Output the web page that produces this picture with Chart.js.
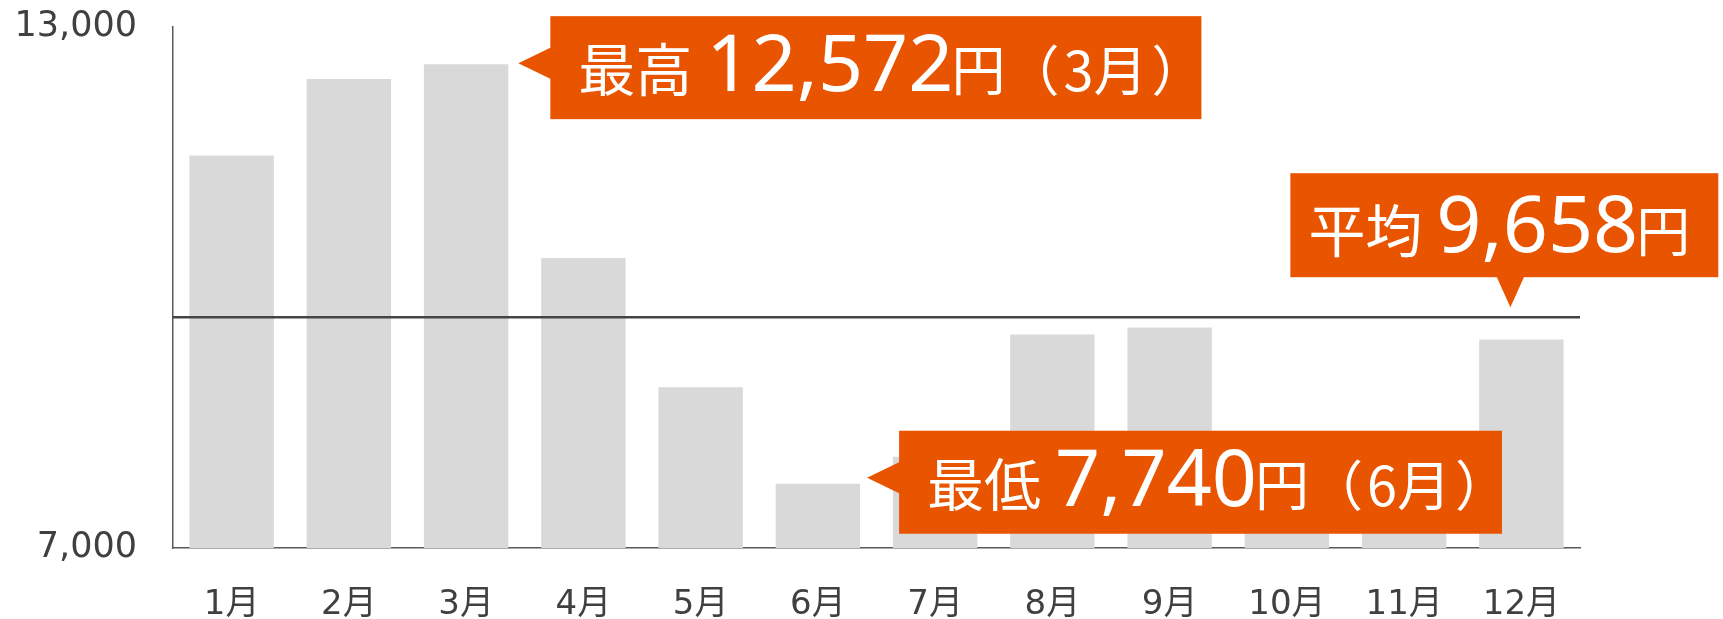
<!DOCTYPE html>
<html lang="ja">
<head>
<meta charset="utf-8">
<script src="https://cdn.jsdelivr.net/npm/chart.js@4.4.1/dist/chart.umd.min.js"></script>
<style>
html, body { margin: 0; padding: 0; background: #fff; }
#wrap { width: 1723px; height: 619px; }
</style>
</head>
<body>
<div id="wrap"><canvas id="priceChart" width="1723" height="619"></canvas></div>
<script>
// monthly prices (yen)
const months = ['1月', '2月', '3月', '4月', '5月', '6月', '7月', '8月', '9月', '10月', '11月', '12月'];
const prices = [11520, 12400, 12572, 10340, 8850, 7740, 8050, 9460, 9540, 7990, 8034, 9400];
const average = 9658;
const yTicks = [7000, 13000];

const ORANGE = 'rgb(233, 84, 0)';
const BAR = '#d9d9d9';
const AXIS = '#595959';
const TEXT = '#404040';
const CJK = '"Noto Sans CJK JP", sans-serif';
const NUM = '"Noto Sans", "Noto Sans CJK JP", sans-serif';
const TICK_FONT = '"DejaVu Sans", "Noto Sans CJK JP", sans-serif';

const maxIdx = prices.indexOf(Math.max(...prices));
const minIdx = prices.indexOf(Math.min(...prices));
const fmt = v => v.toLocaleString('en-US');

function partsWidth(ctx, parts) {
    let w = 0;
    parts.forEach(p => {
        ctx.font = p.font;
        w += (p.gap || 0) + ctx.measureText(p.text).width;
    });
    return w;
}

function drawParts(ctx, parts, x, baseline) {
    ctx.fillStyle = '#fff';
    ctx.textBaseline = 'alphabetic';
    ctx.textAlign = 'left';
    parts.forEach(p => {
        ctx.font = p.font;
        x += p.gap || 0;
        ctx.fillText(p.text, x, baseline);
        x += ctx.measureText(p.text).width;
    });
}

// label, value, 円, (month) pieces for one callout
function calloutParts(label, value, month) {
    const parts = [
        { text: label, font: '57px ' + CJK },
        { text: fmt(value), font: '79px ' + NUM, gap: 14 },
        { text: '円', font: '54px ' + CJK, gap: -2 },
    ];
    if (month) {
        parts.push({ text: '（', font: '54px ' + CJK, gap: 0 });
        parts.push({ text: month, font: '54px ' + CJK, gap: 4 });
        parts.push({ text: '）', font: '54px ' + CJK, gap: 4 });
    }
    return parts;
}

// callout with an arrow on its left side
function sideCallout(ctx, tipX, tipY, parts, padL, padR) {
    const left = tipX + 32;
    const top = tipY - 47;
    const h = 103;
    const w = padL + partsWidth(ctx, parts) + padR;
    ctx.fillStyle = ORANGE;
    ctx.fillRect(left, top, w, h);
    ctx.beginPath();
    ctx.moveTo(tipX, tipY);
    ctx.lineTo(left + 1, tipY - 16);
    ctx.lineTo(left + 1, tipY + 16);
    ctx.closePath();
    ctx.fill();
    drawParts(ctx, parts, left + padL, top + 75);
}

// callout with an arrow pointing down
function downCallout(ctx, tipX, tipY, parts, padL, padR) {
    const bottom = tipY - 30;
    const top = bottom - 104;
    const left = tipX - 220;
    const w = padL + partsWidth(ctx, parts) + padR;
    ctx.fillStyle = ORANGE;
    ctx.fillRect(left, top, w, bottom - top);
    ctx.beginPath();
    ctx.moveTo(tipX, tipY);
    ctx.lineTo(tipX - 14, bottom - 1);
    ctx.lineTo(tipX + 14, bottom - 1);
    ctx.closePath();
    ctx.fill();
    drawParts(ctx, parts, left + padL, top + 79);
}

const calloutPlugin = {
    id: 'callouts',
    afterDatasetsDraw(chart) {
        const ctx = chart.ctx;
        const area = chart.chartArea;
        const y = chart.scales.y;
        const bars = chart.getDatasetMeta(0).data;

        ctx.save();
        // average line
        const avgY = y.getPixelForValue(average);
        ctx.strokeStyle = '#444';
        ctx.lineWidth = 2.5;
        ctx.beginPath();
        ctx.moveTo(area.left, avgY);
        ctx.lineTo(area.right, avgY);
        ctx.stroke();

        const maxBar = bars[maxIdx];
        sideCallout(ctx, maxBar.x + maxBar.width / 2 + 10, maxBar.y - 1,
            calloutParts('最高', prices[maxIdx], months[maxIdx]), 28, -4);

        const minBar = bars[minIdx];
        sideCallout(ctx, minBar.x + minBar.width / 2 + 7, minBar.y - 6,
            calloutParts('最低', prices[minIdx], months[minIdx]), 28, -7);

        const lastBar = bars[bars.length - 1];
        downCallout(ctx, lastBar.x - 11, avgY - 10,
            calloutParts('平均', average, null), 18, 28);
        ctx.restore();
    }
};

new Chart(document.getElementById('priceChart'), {
    type: 'bar',
    data: {
        labels: months,
        datasets: [{
            data: prices,
            backgroundColor: BAR,
            borderWidth: 0,
            barPercentage: 0.72,
            categoryPercentage: 1,
        }],
    },
    options: {
        responsive: false,
        devicePixelRatio: 1,
        animation: false,
        layout: { padding: { top: 27, right: 143, left: 0, bottom: 0 } },
        plugins: {
            legend: { display: false },
            tooltip: { enabled: false },
        },
        scales: {
            x: {
                grid: { display: false, drawTicks: false },
                border: { display: true, color: AXIS, width: 1.5 },
                ticks: {
                    color: TEXT,
                    padding: 37,
                    maxRotation: 0,
                    autoSkip: false,
                    font: { family: TICK_FONT, size: 34 },
                },
                afterFit(scale) { scale.height = 71; },
            },
            y: {
                min: yTicks[0],
                max: yTicks[1],
                grid: { display: false, drawTicks: false },
                border: { display: true, color: AXIS, width: 1.5 },
                afterBuildTicks(scale) { scale.ticks = yTicks.map(v => ({ value: v })); },
                ticks: {
                    color: TEXT,
                    padding: 36,
                    font: { family: TICK_FONT, size: 35 },
                    callback: v => fmt(v),
                },
                afterFit(scale) {
                    scale.width = 173;
                    scale.paddingTop = 0;
                    scale.paddingBottom = 0;
                },
            },
        },
    },
    plugins: [calloutPlugin],
});
</script>
</body>
</html>
